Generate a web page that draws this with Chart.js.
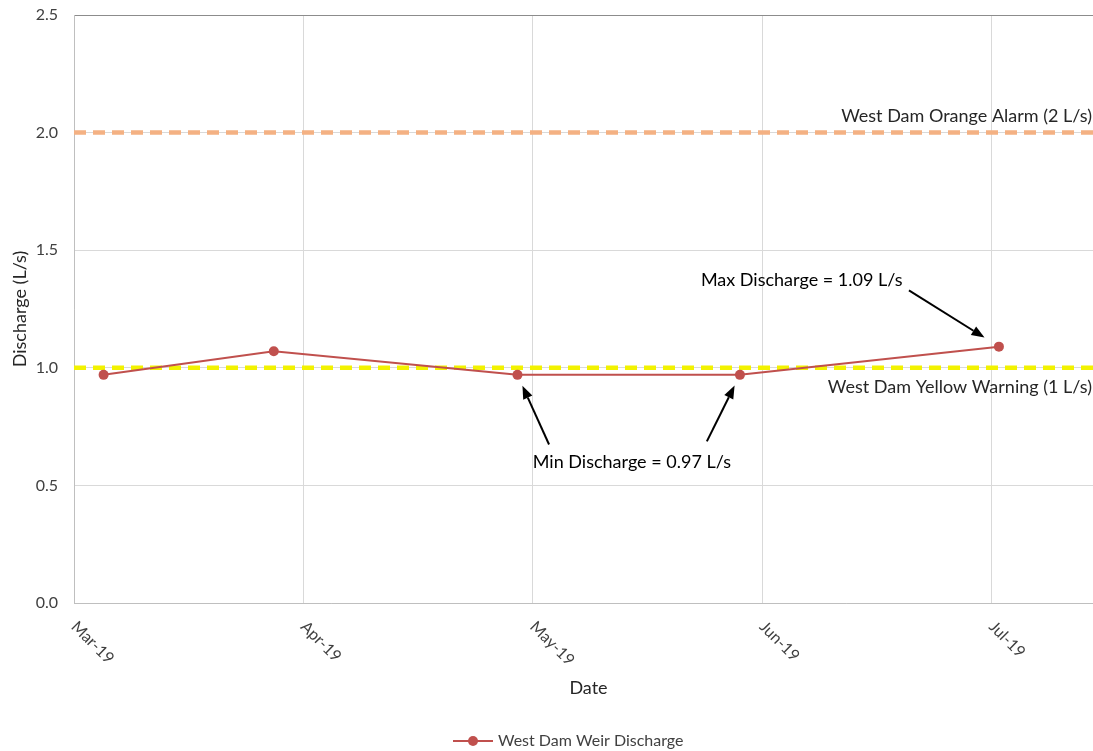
<!DOCTYPE html>
<html>
<head>
<meta charset="utf-8">
<script src="https://cdn.jsdelivr.net/npm/chart.js@4.4.1/dist/chart.umd.min.js"></script>
<style>
  html, body { margin: 0; padding: 0; background: #fff; overflow: hidden; }
  #wrap { width: 1103px; height: 751px; }
  canvas { display: block; }
</style>
</head>
<body>
<div id="wrap"><canvas id="chart" width="1103" height="751"></canvas></div>
<script>
// ---- data ----
const monthLabels = ['Mar-19', 'Apr-19', 'May-19', 'Jun-19', 'Jul-19'];
const sampleDates = ['2019-03-05', '2019-03-28', '2019-04-29', '2019-05-29', '2019-07-02'];
const dischargeLps = [0.97, 1.07, 0.97, 0.97, 1.09];
const seriesName = 'West Dam Weir Discharge';

const orangeAlarmLps = 2;
const yellowWarningLps = 1;
const orangeAlarmLabel = 'West Dam Orange Alarm (2 L/s)';
const yellowWarningLabel = 'West Dam Yellow Warning (1 L/s)';

const yTickValues = [0, 0.5, 1, 1.5, 2, 2.5];

// ---- helpers ----
const FONT = 'Lato, "Open Sans", sans-serif';
const firstMonth = { year: 2019, month: 3 };   // March 2019 sits at 0

// month-based position: whole months are evenly spaced, days fill the month
function monthPos(iso) {
  const [y, m, d] = iso.split('-').map(Number);
  const daysInMonth = new Date(y, m, 0).getDate();
  return (y - firstMonth.year) * 12 + (m - firstMonth.month) + (d - 1) / daysInMonth;
}

const xMax = 4.486;
const seriesPoints = sampleDates.map((d, i) => ({ x: monthPos(d), y: dischargeLps[i] }));

const maxValue = Math.max(...dischargeLps);
const minValue = Math.min(...dischargeLps);
const maxNoteText = `Max Discharge = ${maxValue.toFixed(2)} L/s`;
const minNoteText = `Min Discharge = ${minValue.toFixed(2)} L/s`;

// callouts: text anchor and arrow tails in axis units, arrows end at a data point
const callouts = [
  { text: maxNoteText, x: 2.733, y: 1.371, align: 'left',
    arrows: [{ from: [3.64, 1.329], point: 4, gap: 17 }] },
  { text: minNoteText, x: 2.432, y: 0.597, align: 'center',
    arrows: [{ from: [2.071, 0.674], point: 2, gap: 12 },
             { from: [2.759, 0.687], point: 3, gap: 12 }] }
];

const thresholdLabels = [
  { text: orangeAlarmLabel, x: 4.438, y: orangeAlarmLps + 0.069 },
  { text: yellowWarningLabel, x: 4.438, y: yellowWarningLps - 0.083 }
];

const RED = '#C0504D';

// ---- drawing of extra text, arrows, rotated month labels and legend ----
const overlayPlugin = {
  id: 'overlay',
  afterDraw(chart) {
    const { ctx, scales: { x, y } } = chart;
    ctx.save();

    // month labels, rotated clockwise below the axis
    ctx.fillStyle = '#404040';
    ctx.font = `16px ${FONT}`;
    ctx.textAlign = 'left';
    ctx.textBaseline = 'middle';
    monthLabels.forEach((lab, i) => {
      const px = x.getPixelForValue(i);
      ctx.save();
      ctx.translate(px, y.bottom + 21);
      ctx.rotate(Math.PI / 4);
      ctx.fillText(lab, 0, 0);
      ctx.restore();
    });

    // threshold line captions
    ctx.fillStyle = '#262626';
    ctx.font = `18px ${FONT}`;
    ctx.textAlign = 'right';
    thresholdLabels.forEach(t => {
      ctx.fillText(t.text, x.getPixelForValue(t.x), y.getPixelForValue(t.y));
    });

    // callouts with arrows
    const meta = chart.getDatasetMeta(0);
    ctx.fillStyle = '#000';
    ctx.strokeStyle = '#000';
    callouts.forEach(c => {
      ctx.textAlign = c.align;
      ctx.fillText(c.text, x.getPixelForValue(c.x), y.getPixelForValue(c.y));
      c.arrows.forEach(a => {
        const sx = x.getPixelForValue(a.from[0]);
        const sy = y.getPixelForValue(a.from[1]);
        const el = meta.data[a.point];
        const dx = el.x - sx, dy = el.y - sy;
        const len = Math.hypot(dx, dy);
        const ux = dx / len, uy = dy / len;
        const tx = el.x - ux * a.gap, ty = el.y - uy * a.gap;
        const headLen = 13, headHalf = 5;
        const bx = tx - ux * headLen, by = ty - uy * headLen;
        ctx.lineWidth = 2;
        ctx.beginPath();
        ctx.moveTo(sx, sy);
        ctx.lineTo(bx, by);
        ctx.stroke();
        ctx.beginPath();
        ctx.moveTo(tx, ty);
        ctx.lineTo(bx - uy * headHalf, by + ux * headHalf);
        ctx.lineTo(bx + uy * headHalf, by - ux * headHalf);
        ctx.closePath();
        ctx.fill();
      });
    });

    // legend: line with marker, then series name
    const ly = 741, lx = 453;
    const ds = chart.data.datasets[0];
    ctx.strokeStyle = ds.borderColor;
    ctx.lineWidth = 2;
    ctx.beginPath();
    ctx.moveTo(lx, ly);
    ctx.lineTo(lx + 40, ly);
    ctx.stroke();
    ctx.fillStyle = ds.pointBackgroundColor;
    ctx.beginPath();
    ctx.arc(lx + 20, ly, 5, 0, Math.PI * 2);
    ctx.fill();
    ctx.fillStyle = '#404040';
    ctx.font = `16px ${FONT}`;
    ctx.textAlign = 'left';
    ctx.textBaseline = 'middle';
    ctx.fillText(ds.label, lx + 45, ly);

    ctx.restore();
  }
};

new Chart(document.getElementById('chart'), {
  type: 'line',
  data: {
    datasets: [
      {
        label: seriesName,
        data: seriesPoints,
        borderColor: RED,
        backgroundColor: RED,
        pointBackgroundColor: RED,
        pointBorderColor: RED,
        borderWidth: 2,
        pointRadius: 5,
        pointBorderWidth: 0,
        tension: 0
      },
      {
        label: orangeAlarmLabel,
        data: [{ x: 0, y: orangeAlarmLps }, { x: xMax, y: orangeAlarmLps }],
        borderColor: '#F4B183',
        borderWidth: 4.5,
        borderDash: [12, 7],
        pointRadius: 0
      },
      {
        label: yellowWarningLabel,
        data: [{ x: 0, y: yellowWarningLps }, { x: xMax, y: yellowWarningLps }],
        borderColor: '#F2F200',
        borderWidth: 4.5,
        borderDash: [12, 7],
        pointRadius: 0
      }
    ]
  },
  options: {
    responsive: false,
    animation: false,
    layout: { autoPadding: false, padding: { top: 15, right: 0, bottom: 0, left: 0 } },
    plugins: {
      legend: { display: false },
      tooltip: { enabled: false }
    },
    scales: {
      x: {
        type: 'linear',
        min: 0,
        max: xMax,
        afterBuildTicks: s => { s.ticks = monthLabels.map((_, i) => ({ value: i })); },
        afterFit: s => { s.height = 148; s.paddingLeft = 0; s.paddingRight = 0; },
        ticks: { display: false },
        grid: { color: '#d9d9d9', drawTicks: false },
        border: { color: '#bfbfbf', width: 1 },
        title: {
          display: true, text: 'Date', color: '#262626',
          font: { family: FONT, size: 18 },
          padding: { top: 0, bottom: 52 }
        }
      },
      y: {
        type: 'linear',
        min: 0,
        max: 2.5,
        afterBuildTicks: s => { s.ticks = yTickValues.map(v => ({ value: v })); },
        afterFit: s => { s.width = 74; s.paddingTop = 0; s.paddingBottom = 0; },
        ticks: {
          color: '#404040',
          font: { family: FONT, size: 16 },
          padding: 16,
          callback: v => Number(v).toFixed(1)
        },
        grid: {
          drawTicks: false,
          color: c => (c.tick && c.tick.value === 2.5 ? '#8c8c8c' : '#d9d9d9')
        },
        border: { color: '#bfbfbf', width: 1 },
        title: {
          display: true, text: 'Discharge (L/s)', color: '#262626',
          font: { family: FONT, size: 18 },
          padding: { top: 9, bottom: 0 }
        }
      }
    }
  },
  plugins: [overlayPlugin]
});
</script>
</body>
</html>
